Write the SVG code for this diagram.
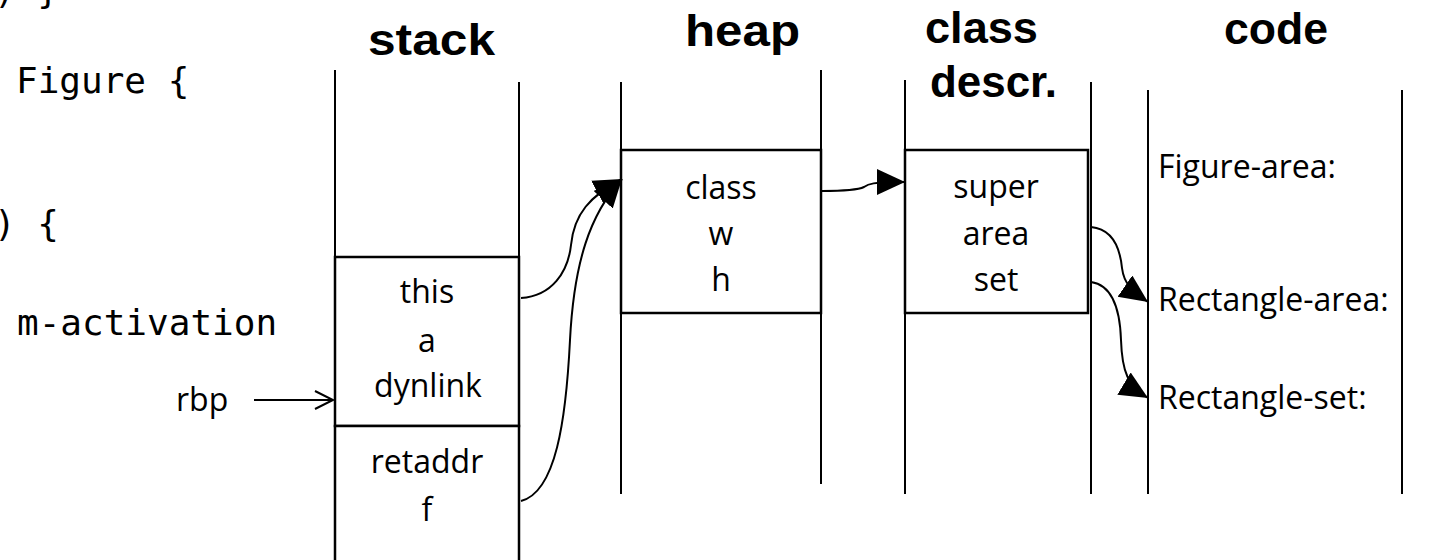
<svg xmlns="http://www.w3.org/2000/svg" width="1430" height="560" viewBox="0 0 1430 560">
<style>
.col{stroke:#000;stroke-width:2;fill:none}
.box{stroke:#000;stroke-width:2.5;fill:#fff}
.t{font-family:"Open Sans","Noto Sans",sans-serif;font-size:32px;fill:#000;text-anchor:middle}
.ts{font-family:"Open Sans","Noto Sans",sans-serif;font-size:32px;fill:#000}
.h{font-family:"Liberation Sans",Arial,sans-serif;font-size:45px;font-weight:bold;fill:#000}
.m{font-family:"DejaVu Sans Mono","Liberation Mono",monospace;font-size:36px;fill:#000}
.c{stroke:#000;stroke-width:2;fill:none}
</style>
<defs>
<marker id="tri" markerUnits="userSpaceOnUse" markerWidth="30" markerHeight="28" refX="28" refY="13" orient="auto" viewBox="0 0 30 28">
<path d="M0,0 L28,13 L0,26 z" fill="#000"/>
</marker>
<marker id="open" markerUnits="userSpaceOnUse" markerWidth="22" markerHeight="22" refX="19" refY="10" orient="auto" viewBox="0 0 22 22">
<path d="M1,1 L19,10 L1,19" fill="none" stroke="#000" stroke-width="2"/>
</marker>
</defs>

<g id="source-code">
<text class="m" x="-6" y="3">) }</text>
<text class="m" x="16" y="93">Figure {</text>
<text class="m" x="-6" y="236">) {</text>
<text class="m" x="17" y="335">m-activation</text>
</g>

<g id="titles">
<text class="h" x="368" y="55" textLength="127" lengthAdjust="spacingAndGlyphs">stack</text>
<text class="h" x="685" y="46" textLength="115" lengthAdjust="spacingAndGlyphs">heap</text>
<text class="h" x="925" y="43" textLength="113" lengthAdjust="spacingAndGlyphs">class</text>
<text class="h" x="930" y="97" textLength="127" lengthAdjust="spacingAndGlyphs">descr.</text>
<text class="h" x="1224" y="44" textLength="104" lengthAdjust="spacingAndGlyphs">code</text>
</g>

<g id="stack">
<line class="col" x1="335" y1="70" x2="335" y2="560"/>
<line class="col" x1="519" y1="82" x2="519" y2="560"/>
<rect class="box" x="335" y="257" width="184" height="169"/>
<rect class="box" x="335" y="426" width="184" height="140"/>
<text class="t" x="427" y="303">this</text>
<text class="t" x="427" y="352">a</text>
<text class="t" x="428" y="397">dynlink</text>
<text class="t" x="427" y="473">retaddr</text>
<text class="t" x="427" y="521">f</text>
</g>

<g id="rbp">
<text class="ts" x="176" y="411">rbp</text>
</g>

<g id="heap">
<line class="col" x1="621" y1="82" x2="621" y2="494"/>
<line class="col" x1="821" y1="70" x2="821" y2="484"/>
<rect class="box" x="621" y="150" width="200" height="163"/>
<text class="t" x="721" y="199">class</text>
<text class="t" x="721" y="245">w</text>
<text class="t" x="721" y="291">h</text>
</g>

<g id="class-descr">
<line class="col" x1="905" y1="80" x2="905" y2="494"/>
<line class="col" x1="1091" y1="82" x2="1091" y2="494"/>
<rect class="box" x="905" y="150" width="183" height="163"/>
<text class="t" x="996" y="198">super</text>
<text class="t" x="996" y="245">area</text>
<text class="t" x="996" y="291">set</text>
</g>

<g id="code">
<line class="col" x1="1148" y1="90" x2="1148" y2="494"/>
<line class="col" x1="1402" y1="90" x2="1402" y2="494"/>
<text class="ts" x="1158" y="178">Figure-area:</text>
<text class="ts" x="1158" y="311">Rectangle-area:</text>
<text class="ts" x="1158" y="409">Rectangle-set:</text>
</g>

<g id="connectors">
<path class="c" d="M254,400 L333,400" marker-end="url(#open)"/>
<path class="c" d="M521,298 C552,296 568,272 571,245 C574,214 590,196 622,179" marker-end="url(#tri)"/>
<path class="c" d="M521,501 C556,492 566,420 570,340 C574,262 590,214 622,179" marker-end="url(#tri)"/>
<path class="c" d="M822,191 C845,191 858,190 864,187 C868,184 872,182 905,182" marker-end="url(#tri)"/>
<path class="c" d="M1091,227 C1112,229 1120,248 1122,268 C1124,284 1132,291 1148,302" marker-end="url(#tri)"/>
<path class="c" d="M1091,282 C1112,285 1120,310 1121,340 C1122,372 1128,386 1148,398" marker-end="url(#tri)"/>
</g>
</svg>
